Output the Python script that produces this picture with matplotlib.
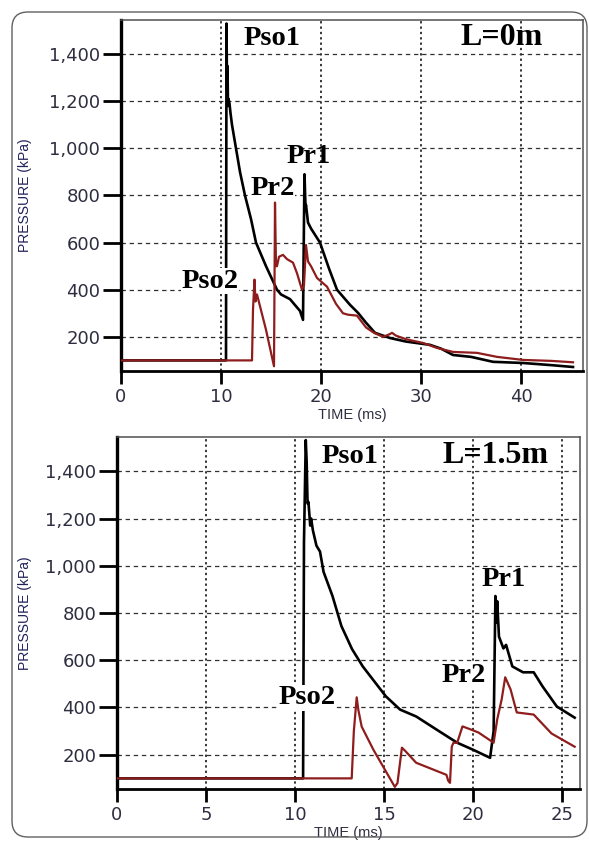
import matplotlib
matplotlib.use("Agg")
import matplotlib.pyplot as plt
from matplotlib.patches import FancyBboxPatch
from matplotlib.transforms import IdentityTransform
from matplotlib.ticker import FuncFormatter

# ---------------- data: L = 0 m ----------------
t_black_0 = [0, 10.5, 10.55, 10.6, 10.65, 10.7, 10.75, 10.85, 10.95, 11.1, 11.3, 11.5, 11.9, 12.4,
             13.0, 13.5, 14.5, 15.6, 16.0, 16.9, 17.9, 18.2, 18.3, 18.35, 18.45, 18.5, 18.7, 19.0,
             19.9, 20.8, 21.6, 22.9, 23.7, 24.5, 25.4, 26.9, 28.5, 30.9, 32.0, 33.2, 35.0, 37.2,
             40.2, 43.0, 45.2]
p_black_0 = [100, 100, 1530, 1250, 1350, 1180, 1210, 1190, 1150, 1100, 1050, 1000, 900, 800,
             700, 600, 500, 400, 380, 360, 310, 272, 700, 890, 750, 760, 685, 660,
             600, 490, 400, 336, 302, 260, 217, 195, 180, 166, 150, 123, 115, 94,
             89, 80, 72]
t_red_0 = [0, 13.1, 13.2, 13.35, 13.45, 13.6, 14.5, 15.3, 15.4, 15.5, 15.6, 15.8, 16.2, 16.6,
           17.2, 17.6, 18.1, 18.3, 18.5, 18.7, 19.0, 19.6, 20.6, 21.5, 22.2, 22.7, 23.6, 24.5,
           25.3, 26.2, 26.8, 27.1, 27.5, 28.5, 30.2, 31.6, 33.2, 35.6, 37.6, 40.2, 43.0, 45.2]
p_red_0 = [100, 100, 315, 443, 350, 380, 230, 75, 770, 500, 500, 540, 548, 530,
           515, 470, 400, 420, 590, 520, 500, 450, 413, 340, 300, 294, 290, 240,
           217, 200, 210, 217, 205, 190, 174, 153, 136, 132, 115, 102, 98, 92]

# ---------------- data: L = 1.5 m ----------------
t_black_15 = [0, 10.45, 10.5, 10.6, 10.65, 10.7, 10.75, 10.85, 10.9, 11.0, 11.2, 11.4, 11.6,
              12.1, 12.6, 13.2, 13.8, 15.1, 15.9, 16.8, 18.1, 19.1, 20.0, 20.95, 21.15, 21.25,
              21.3, 21.35, 21.45, 21.7, 21.85, 22.2, 22.8, 23.4, 23.9, 24.7, 25.7]
p_black_15 = [100, 100, 1100, 1532, 1440, 1264, 1270, 1170, 1200, 1150, 1085, 1060, 974,
              872, 745, 647, 574, 447, 391, 362, 299, 251, 221, 187, 300, 872,
              760, 850, 700, 650, 665, 574, 549, 549, 489, 404, 357]
t_red_15 = [0, 13.18, 13.3, 13.46, 13.55, 13.74, 14.4, 15.15, 15.6, 15.75, 16.0, 16.2, 16.8,
            17.8, 18.5, 18.6, 18.7, 18.8, 18.9, 19.1, 19.4, 19.9, 20.3, 21.15, 21.35, 21.6,
            21.8, 22.1, 22.45, 23.4, 24.4, 25.7]
p_red_15 = [100, 100, 300, 443, 391, 319, 221, 123, 64, 80, 230, 215, 166,
            136, 115, 90, 81, 235, 251, 250, 320, 306, 294, 251, 349, 434,
            528, 477, 379, 370, 290, 234]

y_ticks = [200, 400, 600, 800, 1000, 1200, 1400]
x_ticks_0 = [0, 10, 20, 30, 40]
x_ticks_15 = [0, 5, 10, 15, 20, 25]

labels_0 = [("Pso1", 15.15, 1438), ("L=0m", 38.05, 1438), ("Pr1", 18.8, 940),
            ("Pr2", 15.15, 804), ("Pso2", 8.9, 408)]
labels_15 = [("Pso1", 13.09, 1434), ("L=1.5m", 21.26, 1434), ("Pr1", 21.69, 915),
             ("Pr2", 19.49, 506), ("Pso2", 10.65, 413)]

BLACK = "#000000"
RED = "#8f1d1d"
TICKCOL = "#2e2e40"
LABCOL = "#22225a"

fig = plt.figure(figsize=(5.89, 8.41), dpi=100)

# outer rounded frame (pixel coordinates)
frame = FancyBboxPatch((12, 4), 575, 825, boxstyle="round,pad=0,rounding_size=16",
                       transform=IdentityTransform(), facecolor="none",
                       edgecolor="#606060", linewidth=1.0)
fig.patches.append(frame)


def style_axes(ax, tx, xmax, t_b, p_b, t_r, p_r, labels):
    ax.plot(t_b, p_b, color=BLACK, lw=1.9, zorder=3)
    ax.plot(t_r, p_r, color=RED, lw=1.6, zorder=4)
    ax.set_xlim(0, xmax)
    ax.set_ylim(55, 1545)
    ax.set_xticks(tx)
    ax.set_yticks(y_ticks)
    ax.yaxis.set_major_formatter(FuncFormatter(lambda v, p: f"{int(v):,}"))
    ax.xaxis.grid(True, linestyle=(0, (1.5, 2.0)), color="black", lw=1.1)
    ax.yaxis.grid(True, linestyle=(0, (3.5, 3.0)), color="#303030", lw=0.9)
    ax.set_axisbelow(True)
    for s in ("top", "right"):
        ax.spines[s].set_color("#505050")
        ax.spines[s].set_linewidth(1.1)
    ax.spines["left"].set_linewidth(2.4)
    ax.spines["bottom"].set_linewidth(2.0)
    ax.tick_params(axis="y", direction="out", length=13, width=2.0, pad=2,
                   labelsize=13, labelcolor=TICKCOL)
    ax.tick_params(axis="x", direction="out", length=9, width=2.0, pad=3,
                   labelsize=13, labelcolor=TICKCOL)
    for lab in ax.get_xticklabels() + ax.get_yticklabels():
        lab.set_family("DejaVu Sans")
    ax.set_ylabel("PRESSURE (kPa)", fontsize=10, color=LABCOL, family="Liberation Sans")
    ax.set_xlabel("TIME (ms)", fontsize=10.5, color=TICKCOL, family="Liberation Sans",
                  labelpad=2)
    for txt, x, y in labels:
        big = txt.startswith("L=")
        ax.text(x, y, txt, ha="center", va="baseline", family="Liberation Serif",
                fontweight="bold", fontsize=23 if big else 20.5, color="black", zorder=6,
                bbox=dict(facecolor="white", edgecolor="none", pad=0.5) if txt in ("Pso2", "Pr2") else None)


ax1 = fig.add_axes([121 / 589, 1 - 371 / 841, 462 / 589, 351 / 841])
style_axes(ax1, x_ticks_0, 46.2, t_black_0, p_black_0, t_red_0, p_red_0, labels_0)

ax2 = fig.add_axes([117 / 589, 1 - 789 / 841, 463 / 589, 352 / 841])
style_axes(ax2, x_ticks_15, 26.0, t_black_15, p_black_15, t_red_15, p_red_15, labels_15)

for ax, left in ((ax1, 121), (ax2, 117)):
    ax.yaxis.set_label_coords(-(left - 32) / 462, 0.5)

fig.savefig("out.png", dpi=100)
